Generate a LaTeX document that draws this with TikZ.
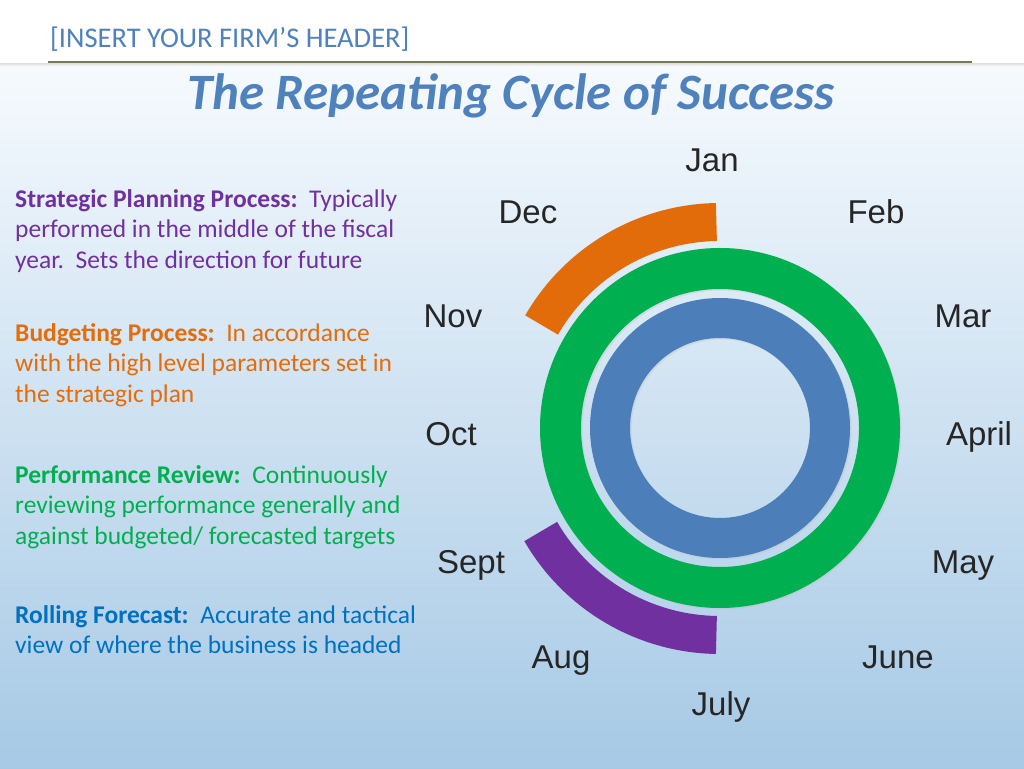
\documentclass[tikz,border=0pt]{standalone}
\usepackage{fontspec}
\usepackage{xcolor}
\setmainfont{Carlito}
\newfontfamily\monthfont{Liberation Sans}
\definecolor{hdrblue}{RGB}{79,129,189}
\definecolor{ringblue}{RGB}{76,126,186}
\definecolor{ringgreen}{RGB}{0,176,80}
\definecolor{arcorange}{RGB}{226,108,10}
\definecolor{arcpurple}{RGB}{112,48,160}
\definecolor{txtpurple}{RGB}{112,48,160}
\definecolor{txtorange}{RGB}{228,108,10}
\definecolor{txtgreen}{RGB}{0,176,80}
\definecolor{txtblue}{RGB}{0,112,192}
\definecolor{ruleolive}{RGB}{118,122,88}
\definecolor{bgtop}{RGB}{246,250,254}
\definecolor{bgmid}{RGB}{220,234,246}
\definecolor{bgbot}{RGB}{166,201,229}

\begin{document}
\begin{tikzpicture}[x=1pt,y=1pt]
				\tikzstyle{every node}+=[inner sep=0pt]
				\tikzstyle{month}=[anchor=base, font=\monthfont\fontsize{33}{36}\selectfont, text=black!85]
				\tikzstyle{para}=[anchor=base west, align=left, font=\fontsize{25.5}{30.5}\selectfont]
				\useasboundingbox (0,0) rectangle (1024,768);
				% background
				\fill [white] (0,0) rectangle (1024,768);
				\shade [top color=bgtop, middle color=bgmid, bottom color=bgbot] (0,0) rectangle (1024,703);
				\shade [top color=black!10, bottom color=white] (0,701) rectangle (1024,704);
				% header
				\node (hdr) [anchor=base west, font=\fontsize{28.5}{32}\selectfont, text=hdrblue] at (50,720) {[INSERT YOUR FIRM’S HEADER]};
				\draw [ruleolive, line width=1.6pt] (48,706) -- (972,706);
				\node (title) [anchor=base, font=\fontsize{51}{56}\selectfont\bfseries\itshape, text=hdrblue] at (511,658) {The Repeating Cycle of Success};
				% rings
				\coordinate (c) at (720,340);
				\draw [black!25, line width=41pt, opacity=0.35] ([shift={(1.5,-1.5)}]c) circle (159.5pt);
				\draw [ringgreen, line width=41pt] (c) circle (159.5pt);
				\draw [black!25, line width=40pt, opacity=0.35] ([shift={(1.5,-1.5)}]c) circle (110pt);
				\draw [ringblue, line width=40pt] (c) circle (110pt);
				\draw [arcorange, line width=38pt] ([shift={(91:206pt)}]c) arc (91:150:206pt);
				\draw [arcpurple, line width=38pt] ([shift={(210:207pt)}]c) arc (210:269:207pt);
				% months
				\node (jan) [month] at (712,596) {Jan};
				\node (feb) [month] at (876,544) {Feb};
				\node (mar) [month] at (963,440) {Mar};
				\node (apr) [month] at (979,322) {April};
				\node (may) [month] at (963,194) {May};
				\node (jun) [month] at (898,100) {June};
				\node (jul) [month] at (721,53) {July};
				\node (aug) [month] at (561,100) {Aug};
				\node (sep) [month] at (471,194) {Sept};
				\node (oct) [month] at (451,322) {Oct};
				\node (nov) [month] at (453,440) {Nov};
				\node (dec) [month] at (528,544) {Dec};
				% descriptions (anchored on the last line)
				\node (strat) [para, text=txtpurple] at (15,499.5) {\textbf{Strategic Planning Process:}\ \ Typically\\performed in the middle of the fiscal\\year.\ \ Sets the direction for future};
				\node (budget) [para, text=txtorange] at (15,365.5) {\textbf{Budgeting Process:}\ \ In accordance\\with the high level parameters set in\\the strategic plan};
				\node (perf) [para, text=txtgreen] at (15,223.5) {\textbf{Performance Review:}\ \ Continuously\\reviewing performance generally and\\against budgeted/ forecasted targets};
				\node (roll) [para, text=txtblue] at (15,114.5) {\textbf{Rolling Forecast:}\ \ Accurate and tactical\\view of where the business is headed};
				\end{tikzpicture}
\end{document}
